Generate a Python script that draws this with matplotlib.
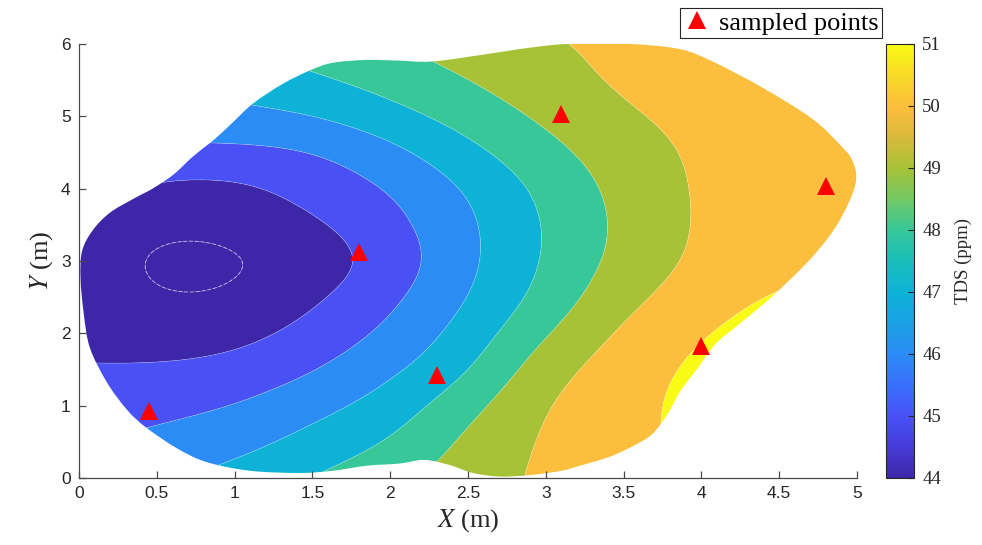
import numpy as np
import matplotlib
matplotlib.use("Agg")
import matplotlib.pyplot as plt
from matplotlib.colors import LinearSegmentedColormap, Normalize
from matplotlib.path import Path
from matplotlib.patches import PathPatch
from matplotlib.cm import ScalarMappable
from matplotlib.ticker import FuncFormatter

plt.rcParams['mathtext.fontset'] = 'stix'

# TDS readings (ppm) on a 0.5 m grid, rows = y, columns = x
grid_x = np.arange(0, 5.01, 0.5)
grid_y = np.arange(0, 6.01, 0.5)
tds = np.array([
    [46.20, 46.75, 47.38, 48.00, 48.77, 49.50, 50.20, 50.85, 51.30, 51.70, 52.00],
    [45.90, 46.20, 46.60, 47.34, 47.99, 49.29, 50.17, 50.72, 51.30, 51.80, 52.20],
    [45.60, 45.73, 45.98, 46.66, 47.40, 48.68, 50.10, 50.69, 51.35, 51.90, 52.30],
    [45.05, 45.10, 45.30, 45.90, 46.78, 47.84, 49.70, 50.55, 51.25, 51.80, 52.20],
    [44.70, 44.45, 44.60, 45.33, 46.17, 47.38, 48.96, 50.25, 50.95, 51.60, 52.00],
    [44.55, 43.95, 44.00, 44.80, 45.75, 46.97, 48.31, 49.78, 50.50, 51.15, 51.50],
    [44.50, 43.72, 43.75, 44.35, 45.30, 46.79, 48.08, 49.35, 50.25, 50.60, 50.80],
    [44.60, 44.10, 44.20, 44.80, 45.66, 46.78, 48.07, 49.22, 50.20, 50.45, 50.55],
    [45.50, 44.65, 44.65, 45.41, 45.97, 47.05, 48.26, 49.31, 50.20, 50.45, 50.55],
    [46.10, 45.85, 45.75, 45.85, 46.65, 47.74, 48.69, 49.56, 50.20, 50.45, 50.50],
    [46.30, 46.50, 46.70, 46.96, 47.67, 48.42, 49.20, 49.91, 50.30, 50.50, 50.55],
    [46.60, 47.08, 47.47, 47.86, 48.40, 49.01, 49.63, 50.20, 50.45, 50.55, 50.60],
    [47.00, 47.50, 48.00, 48.47, 48.95, 49.50, 49.90, 50.25, 50.45, 50.55, 50.60],
])

# outline of the surveyed area (m)
edge_x = [0.01, 0.03, 0.07, 0.18, 0.31, 0.43, 0.63, 0.82, 1.10, 1.42, 1.63, 1.85,
          2.06, 2.22, 2.38, 2.53, 2.70, 2.90, 3.10, 3.22, 3.43, 3.65, 3.74, 3.80,
          3.87, 3.97, 4.09, 4.25, 4.46, 4.71, 4.88, 4.99, 4.97, 4.88, 4.71, 4.39,
          4.07, 3.86, 3.54, 3.14, 2.90, 2.68, 2.28, 2.06, 1.85, 1.63, 1.49, 1.31,
          1.12, 0.99, 0.88, 0.73, 0.61, 0.48, 0.35, 0.20, 0.09, 0.02]
edge_y = [2.76, 2.28, 1.80, 1.32, 0.94, 0.70, 0.41, 0.22, 0.10, 0.07, 0.10, 0.17,
          0.20, 0.25, 0.18, 0.07, 0.02, 0.04, 0.10, 0.17, 0.31, 0.55, 0.75, 0.95,
          1.22, 1.50, 1.85, 2.14, 2.52, 3.05, 3.53, 4.06, 4.39, 4.63, 4.97, 5.40,
          5.76, 5.93, 6.00, 6.00, 5.95, 5.88, 5.76, 5.77, 5.78, 5.74, 5.64, 5.45,
          5.18, 4.92, 4.70, 4.44, 4.20, 4.01, 3.86, 3.67, 3.43, 3.14]

# sampled points (m)
pts_x = [0.45, 1.80, 2.30, 3.10, 4.00, 4.80]
pts_y = [0.92, 3.13, 1.42, 5.03, 1.82, 4.03]

levels = [44, 45, 46, 47, 48, 49, 50, 51]
xticks = [0, 0.5, 1, 1.5, 2, 2.5, 3, 3.5, 4, 4.5, 5]
yticks = [0, 1, 2, 3, 4, 5, 6]

# parula-like colormap
parula = LinearSegmentedColormap.from_list('parula', [
    (0.243, 0.150, 0.660), (0.275, 0.235, 0.850), (0.285, 0.320, 0.965),
    (0.225, 0.440, 0.990), (0.170, 0.550, 0.960), (0.100, 0.630, 0.900),
    (0.050, 0.700, 0.840), (0.100, 0.745, 0.730), (0.215, 0.780, 0.600),
    (0.450, 0.790, 0.400), (0.655, 0.760, 0.215), (0.850, 0.730, 0.230),
    (0.990, 0.745, 0.240), (0.970, 0.850, 0.150), (0.977, 0.984, 0.081)])
norm = Normalize(44, 51)


def bspline_weights(m, k):
    # uniform cubic B-spline resampling matrix, k steps per grid cell
    t = np.linspace(0, m - 1, (m - 1) * k + 1)
    i = np.clip(np.floor(t).astype(int), 0, m - 2)
    s = t - i
    w = [(1 - s)**3 / 6, (3 * s**3 - 6 * s**2 + 4) / 6,
         (-3 * s**3 + 3 * s**2 + 3 * s + 1) / 6, s**3 / 6]
    rows = np.arange(len(t))
    W = np.zeros((len(t), m))
    for off, wk in zip((-1, 0, 1, 2), w):
        j = i + off
        lo, hi = j < 0, j > m - 1
        W[rows, np.clip(j, 0, m - 1)] += wk * np.where(lo | hi, 2, 1)
        W[rows[lo], 1] -= wk[lo]
        W[rows[hi], m - 2] -= wk[hi]
    return t, W


k = 12
ty, Wy = bspline_weights(len(grid_y), k)
tx, Wx = bspline_weights(len(grid_x), k)
fx = grid_x[0] + tx * 0.5
fy = grid_y[0] + ty * 0.5
ftds = Wy @ tds @ Wx.T

# closed smooth outline as cubic Bezier segments
P = np.column_stack([edge_x, edge_y])
n = len(P)
verts = [P[0]]
codes = [Path.MOVETO]
for i in range(n):
    p0, p1, p2, p3 = P[i - 1], P[i], P[(i + 1) % n], P[(i + 2) % n]
    verts += [p1 + (p2 - p0) / 6, p2 - (p3 - p1) / 6, p2]
    codes += [Path.CURVE4] * 3
verts.append(P[0])
codes.append(Path.CLOSEPOLY)
outline = Path(verts, codes)

fig = plt.figure(figsize=(9.82, 5.45), dpi=100)
ax = fig.add_axes([79 / 982, 1 - 478 / 545, 778 / 982, 434 / 545])
cax = fig.add_axes([886 / 982, 1 - 478 / 545, 28 / 982, 434 / 545])

clip = PathPatch(outline, transform=ax.transData, facecolor='none', edgecolor='none')
ax.add_patch(clip)

fill_levels = [40] + levels + [60]
fill_colors = [parula(norm(44))] + [parula(norm(v)) for v in levels]
cs = ax.contourf(fx, fy, ftds, levels=fill_levels, colors=fill_colors, antialiased=True)
cs.set_clip_path(clip)
lines = ax.contour(fx, fy, ftds, levels=levels[1:], colors='white', linewidths=0.5, alpha=0.3)
lines.set_clip_path(clip)
inner = ax.contour(fx, fy, ftds, levels=[44], colors='white', linewidths=0.7,
                   linestyles=[(0, (4, 2))], alpha=0.55)
inner.set_clip_path(clip)

ax.plot(pts_x, pts_y, linestyle='none', marker='^', color='red', markersize=13,
        markeredgewidth=0, label='sampled points', clip_on=False, zorder=5)

ax.set_xlim(0, 5)
ax.set_ylim(0, 6)
ax.set_xticks(xticks)
ax.set_yticks(yticks)
fmt = FuncFormatter(lambda v, p: '%g' % v)
ax.xaxis.set_major_formatter(fmt)
ax.yaxis.set_major_formatter(fmt)
for s in ('top', 'right'):
    ax.spines[s].set_visible(False)
for s in ('left', 'bottom'):
    ax.spines[s].set_color('#4a4a4a')
    ax.spines[s].set_linewidth(0.9)
ax.tick_params(direction='in', length=5, width=0.9, color='#4a4a4a',
               labelcolor='#262626', labelsize=12.5, pad=6)
for t in ax.get_xticklabels() + ax.get_yticklabels():
    t.set_family('Liberation Sans')
ax.set_xlabel('$X$ (m)', family='Liberation Serif', fontsize=19, color='#262626', labelpad=4)
ax.set_ylabel('$Y$ (m)', family='Liberation Serif', fontsize=19, color='#262626', labelpad=4)

cb = fig.colorbar(ScalarMappable(norm=norm, cmap=parula), cax=cax, ticks=range(44, 52))
cb.outline.set_edgecolor('#262626')
cb.outline.set_linewidth(0.8)
cax.tick_params(direction='in', length=4, width=0.8, color='#262626',
                labelcolor='#262626', labelsize=13.5, pad=6)
for t in cax.get_yticklabels():
    t.set_family('Liberation Serif')
cb.set_label('TDS (ppm)', family='Liberation Serif', fontsize=13.5, color='#262626', labelpad=10)

leg = fig.legend(loc='upper right', bbox_to_anchor=(882 / 982, 1 - 8 / 545), borderaxespad=0,
                 fancybox=False, framealpha=1, edgecolor='#262626', handlelength=1.0,
                 handletextpad=0.35, borderpad=0.12, prop={'family': 'Liberation Serif', 'size': 19})
leg.get_frame().set_linewidth(0.8)

fig.savefig('out.png', dpi=100)
